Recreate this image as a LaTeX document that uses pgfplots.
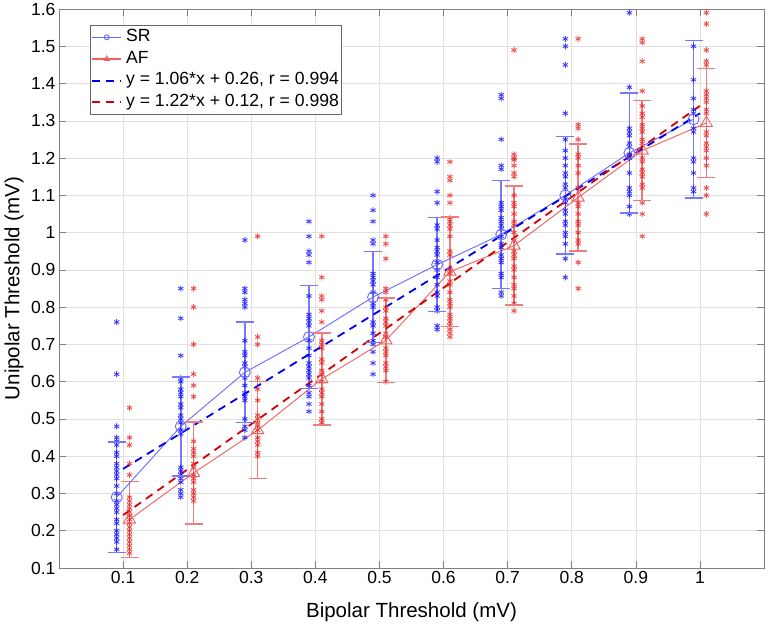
\documentclass[border=0pt]{standalone}
\usepackage{fontspec}
\setmainfont{Liberation Sans}
\usepackage{pgfplots}
\usepackage{pgfplotstable}
\pgfplotsset{compat=1.18}
\definecolor{srdot}{RGB}{20,20,255}
\definecolor{afdot}{RGB}{235,40,40}
\definecolor{srlight}{RGB}{105,105,255}
\definecolor{aflight}{RGB}{240,95,95}
\definecolor{srbar}{RGB}{120,120,255}
\definecolor{afbar}{RGB}{240,125,125}
\definecolor{srfit}{RGB}{0,0,240}
\definecolor{affit}{RGB}{215,0,0}

% group means
\pgfplotstableread{
x y
0.09 0.290
0.19 0.480
0.29 0.625
0.39 0.720
0.49 0.827
0.59 0.914
0.69 0.995
0.79 1.100
0.89 1.214
0.99 1.304
}\srmean
\pgfplotstableread{
x y
0.11 0.230
0.21 0.355
0.31 0.470
0.41 0.607
0.51 0.711
0.61 0.895
0.71 0.965
0.81 1.094
0.91 1.220
1.01 1.294
}\afmean

\begin{document}
\begin{tikzpicture}
\begin{axis}[
  scale only axis, width=705pt, height=559pt,
  xmin=0, xmax=1.1, ymin=0.1, ymax=1.6,
  xtick={0.1,0.2,0.3,0.4,0.5,0.6,0.7,0.8,0.9,1},
  ytick={0.1,0.2,0.3,0.4,0.5,0.6,0.7,0.8,0.9,1,1.1,1.2,1.3,1.4,1.5,1.6},
  tick align=inside,
  major tick length=7pt,
  grid=major,
  major grid style={color=black!12, line width=0.5pt},
  axis line style={color=black!50, line width=0.6pt},
  tick style={color=black!50, line width=0.6pt},
  /pgf/number format/assume math mode=true,
  tick label style={font=\fontsize{17.5}{18}\selectfont},
  label style={font=\fontsize{20.5}{22}\selectfont},
  xlabel={Bipolar Threshold (mV)},
  ylabel={Unipolar Threshold (mV)},
  xlabel style={at={(axis description cs:0.5,-0.079)}, anchor=center},
  ylabel style={at={(axis description cs:-0.0638,0.5)}, anchor=center},
  unbounded coords=jump,
  legend image code/.code={\draw[mark repeat=2,mark phase=2,#1] plot coordinates {(0pt,0pt) (14.5pt,0pt) (29pt,0pt)};},
  legend style={at={(rel axis cs:0.044,0.971)}, anchor=north west,
    font=\fontsize{17.6}{18}\selectfont, draw=black!60, line width=0.6pt,
    inner xsep=1pt, inner ysep=2pt,
    nodes={inner sep=1.5pt, text height=12.5pt, text depth=4pt},
    row sep=2.2pt, column sep=2.5pt},
  legend cell align=left,
]
\addlegendimage{color=srlight, line width=1.3pt, mark=o, mark size=2.5pt, mark options={line width=0.9pt}}
\addlegendentry{SR}
\addlegendimage{color=aflight, line width=1.3pt, mark=triangle, mark size=3pt, mark options={line width=0.9pt}}
\addlegendentry{AF}
\addlegendimage{color=srfit, line width=1.8pt, dash pattern=on 8pt off 6pt}
\addlegendentry{y = 1.06*x + 0.26, r = 0.994}
\addlegendimage{color=affit, line width=1.8pt, dash pattern=on 8pt off 6pt}
\addlegendentry{y = 1.22*x + 0.12, r = 0.998}

% SR individual points
\addplot[forget plot, only marks, mark=asterisk, mark size=3pt, color=srdot, opacity=0.8, mark options={line width=0.9pt}] coordinates {
(0.09,0.76)(0.09,0.62)(0.09,0.48)(0.09,0.45)(0.09,0.44)(0.09,0.43)(0.09,0.41)(0.09,0.40)(0.09,0.38)(0.09,0.37)(0.09,0.36)(0.09,0.35)(0.09,0.34)(0.09,0.32)(0.09,0.30)(0.09,0.28)(0.09,0.27)(0.09,0.26)(0.09,0.25)(0.09,0.23)(0.09,0.22)(0.09,0.20)(0.09,0.19)(0.09,0.18)(0.09,0.17)(0.09,0.15)
(0.19,0.85)(0.19,0.77)(0.19,0.67)(0.19,0.61)(0.19,0.60)(0.19,0.58)(0.19,0.57)(0.19,0.56)(0.19,0.54)(0.19,0.53)(0.19,0.51)(0.19,0.50)(0.19,0.49)(0.19,0.47)(0.19,0.46)(0.19,0.37)(0.19,0.36)(0.19,0.35)(0.19,0.34)(0.19,0.33)(0.19,0.31)(0.19,0.30)(0.19,0.29)
(0.29,0.98)(0.29,0.85)(0.29,0.84)(0.29,0.82)(0.29,0.81)(0.29,0.80)(0.29,0.71)(0.29,0.68)(0.29,0.67)(0.29,0.65)(0.29,0.64)(0.29,0.61)(0.29,0.59)(0.29,0.57)(0.29,0.56)(0.29,0.55)(0.29,0.50)(0.29,0.48)(0.29,0.47)(0.29,0.45)
(0.39,1.03)(0.39,0.99)(0.39,0.95)(0.39,0.94)(0.39,0.92)(0.39,0.83)(0.39,0.78)(0.39,0.77)(0.39,0.76)(0.39,0.75)(0.39,0.71)(0.39,0.69)(0.39,0.67)(0.39,0.65)(0.39,0.64)(0.39,0.63)(0.39,0.62)(0.39,0.61)(0.39,0.59)(0.39,0.57)(0.39,0.56)(0.39,0.54)(0.39,0.52)
(0.49,1.10)(0.49,1.06)(0.49,1.03)(0.49,0.98)(0.49,0.97)(0.49,0.89)(0.49,0.88)(0.49,0.87)(0.49,0.86)(0.49,0.84)(0.49,0.81)(0.49,0.80)(0.49,0.76)(0.49,0.75)(0.49,0.73)(0.49,0.71)(0.49,0.70)(0.49,0.68)(0.49,0.65)(0.49,0.62)
(0.59,1.20)(0.59,1.19)(0.59,1.11)(0.59,1.08)(0.59,1.02)(0.59,1.01)(0.59,0.98)(0.59,0.96)(0.59,0.95)(0.59,0.94)(0.59,0.92)(0.59,0.90)(0.59,0.88)(0.59,0.86)(0.59,0.84)(0.59,0.83)(0.59,0.80)(0.59,0.79)(0.59,0.75)(0.59,0.74)
(0.69,1.37)(0.69,1.36)(0.69,1.25)(0.69,1.18)(0.69,1.17)(0.69,1.08)(0.69,1.07)(0.69,1.06)(0.69,1.04)(0.69,1.03)(0.69,1.02)(0.69,1.01)(0.69,0.99)(0.69,0.97)(0.69,0.96)(0.69,0.94)(0.69,0.93)(0.69,0.92)(0.69,0.89)(0.69,0.88)(0.69,0.84)(0.69,0.83)
(0.79,1.52)(0.79,1.50)(0.79,1.45)(0.79,1.32)(0.79,1.25)(0.79,1.22)(0.79,1.20)(0.79,1.18)(0.79,1.16)(0.79,1.15)(0.79,1.13)(0.79,1.12)(0.79,1.09)(0.79,1.08)(0.79,1.06)(0.79,1.05)(0.79,1.03)(0.79,1.02)(0.79,1.00)(0.79,0.99)(0.79,0.97)(0.79,0.93)(0.79,0.88)
(0.89,1.59)(0.89,1.39)(0.89,1.28)(0.89,1.27)(0.89,1.26)(0.89,1.24)(0.89,1.23)(0.89,1.21)(0.89,1.20)(0.89,1.16)(0.89,1.12)(0.89,1.11)(0.89,1.10)(0.89,1.07)(0.89,1.05)
(0.99,1.50)(0.99,1.41)(0.99,1.36)(0.99,1.33)(0.99,1.32)(0.99,1.28)(0.99,1.27)(0.99,1.20)(0.99,1.19)(0.99,1.16)(0.99,1.12)(0.99,1.11)
};
% AF individual points
\addplot[forget plot, only marks, mark=asterisk, mark size=3pt, color=afdot, opacity=0.8, mark options={line width=0.9pt}] coordinates {
(0.11,0.53)(0.11,0.45)(0.11,0.43)(0.11,0.38)(0.11,0.35)(0.11,0.29)(0.11,0.28)(0.11,0.27)(0.11,0.26)(0.11,0.25)(0.11,0.24)(0.11,0.23)(0.11,0.22)(0.11,0.21)(0.11,0.20)(0.11,0.19)(0.11,0.18)(0.11,0.17)(0.11,0.16)(0.11,0.15)(0.11,0.14)
(0.21,0.85)(0.21,0.80)(0.21,0.70)(0.21,0.62)(0.21,0.59)(0.21,0.56)(0.21,0.44)(0.21,0.42)(0.21,0.41)(0.21,0.40)(0.21,0.38)(0.21,0.37)(0.21,0.35)(0.21,0.34)(0.21,0.33)(0.21,0.31)(0.21,0.30)(0.21,0.29)(0.21,0.28)
(0.31,0.99)(0.31,0.72)(0.31,0.70)(0.31,0.61)(0.31,0.58)(0.31,0.55)(0.31,0.51)(0.31,0.50)(0.31,0.49)(0.31,0.48)(0.31,0.47)(0.31,0.45)(0.31,0.44)(0.31,0.43)(0.31,0.41)(0.31,0.40)
(0.41,0.99)(0.41,0.88)(0.41,0.83)(0.41,0.82)(0.41,0.79)(0.41,0.76)(0.41,0.71)(0.41,0.70)(0.41,0.69)(0.41,0.66)(0.41,0.65)(0.41,0.63)(0.41,0.62)(0.41,0.60)(0.41,0.58)(0.41,0.57)(0.41,0.56)(0.41,0.54)(0.41,0.52)(0.41,0.50)(0.41,0.49)
(0.51,0.99)(0.51,0.97)(0.51,0.93)(0.51,0.85)(0.51,0.84)(0.51,0.82)(0.51,0.80)(0.51,0.79)(0.51,0.77)(0.51,0.76)(0.51,0.75)(0.51,0.73)(0.51,0.72)(0.51,0.69)(0.51,0.68)(0.51,0.67)(0.51,0.65)(0.51,0.64)(0.51,0.63)(0.51,0.60)
(0.61,1.19)(0.61,1.15)(0.61,1.14)(0.61,1.10)(0.61,1.08)(0.61,1.04)(0.61,1.03)(0.61,1.02)(0.61,1.01)(0.61,0.99)(0.61,0.95)(0.61,0.94)(0.61,0.90)(0.61,0.89)(0.61,0.87)(0.61,0.86)(0.61,0.84)(0.61,0.82)(0.61,0.81)(0.61,0.80)(0.61,0.78)(0.61,0.77)(0.61,0.76)(0.61,0.75)(0.61,0.74)(0.61,0.73)(0.61,0.72)
(0.71,1.49)(0.71,1.21)(0.71,1.20)(0.71,1.195)(0.71,1.18)(0.71,1.16)(0.71,1.15)(0.71,1.10)(0.71,1.08)(0.71,1.07)(0.71,1.05)(0.71,1.03)(0.71,1.02)(0.71,1.00)(0.71,0.98)(0.71,0.95)(0.71,0.94)(0.71,0.93)(0.71,0.91)(0.71,0.90)(0.71,0.88)(0.71,0.86)(0.71,0.85)(0.71,0.83)(0.71,0.81)(0.71,0.79)
(0.81,1.52)(0.81,1.29)(0.81,1.28)(0.81,1.25)(0.81,1.21)(0.81,1.20)(0.81,1.18)(0.81,1.16)(0.81,1.12)(0.81,1.08)(0.81,1.07)(0.81,1.05)(0.81,1.03)(0.81,1.02)(0.81,1.00)(0.81,0.98)(0.81,0.97)(0.81,0.92)(0.81,0.85)
(0.91,1.52)(0.91,1.51)(0.91,1.46)(0.91,1.38)(0.91,1.34)(0.91,1.32)(0.91,1.31)(0.91,1.29)(0.91,1.28)(0.91,1.27)(0.91,1.25)(0.91,1.24)(0.91,1.20)(0.91,1.19)(0.91,1.17)(0.91,1.16)(0.91,1.15)(0.91,1.13)(0.91,1.12)(0.91,1.08)(0.91,1.05)(0.91,0.99)
(1.01,1.59)(1.01,1.56)(1.01,1.49)(1.01,1.46)(1.01,1.45)(1.01,1.38)(1.01,1.37)(1.01,1.36)(1.01,1.35)(1.01,1.33)(1.01,1.32)(1.01,1.27)(1.01,1.26)(1.01,1.24)(1.01,1.23)(1.01,1.22)(1.01,1.20)(1.01,1.18)(1.01,1.12)(1.01,1.10)(1.01,1.05)
};
% SR error bars (mean +/- sd), caps as marks
\addplot[forget plot, draw=srbar, line width=1.6pt, mark=-, mark size=9pt, mark options={draw=srbar, line width=1.6pt}] coordinates {
(0.09,0.142)(0.09,0.438)(0.09,nan)
(0.19,0.347)(0.19,0.613)(0.19,nan)
(0.29,0.490)(0.29,0.760)(0.29,nan)
(0.39,0.582)(0.39,0.858)(0.39,nan)
(0.49,0.705)(0.49,0.949)(0.49,nan)
(0.59,0.788)(0.59,1.040)(0.59,nan)
(0.69,0.850)(0.69,1.140)(0.69,nan)
(0.79,0.942)(0.79,1.258)(0.79,nan)
(0.89,1.053)(0.89,1.375)(0.89,nan)
(0.99,1.093)(0.99,1.515)
};
% AF error bars
\addplot[forget plot, draw=afbar, line width=1.6pt, mark=-, mark size=9pt, mark options={draw=afbar, line width=1.6pt}] coordinates {
(0.11,0.128)(0.11,0.332)(0.11,nan)
(0.21,0.218)(0.21,0.492)(0.21,nan)
(0.31,0.340)(0.31,0.600)(0.31,nan)
(0.41,0.483)(0.41,0.731)(0.41,nan)
(0.51,0.598)(0.51,0.824)(0.51,nan)
(0.61,0.748)(0.61,1.042)(0.61,nan)
(0.71,0.805)(0.71,1.125)(0.71,nan)
(0.81,0.951)(0.81,1.237)(0.81,nan)
(0.91,1.086)(0.91,1.354)(0.91,nan)
(1.01,1.148)(1.01,1.440)
};
% means
\addplot[forget plot, color=srlight, line width=0.9pt, mark=o, mark size=5.5pt] table[x=x, y=y] {\srmean};
\addplot[forget plot, color=aflight, line width=0.9pt, mark=triangle, mark size=7pt] table[x=x, y=y] {\afmean};
% linear fits
\addplot[forget plot, color=srfit, line width=1.8pt, dash pattern=on 8pt off 6pt] coordinates {(0.1,0.366) (1.0,1.32)};
\addplot[forget plot, color=affit, line width=1.8pt, dash pattern=on 8pt off 6pt] coordinates {(0.1,0.242) (1.0,1.34)};
\coordinate (sw) at (rel axis cs:0,0);
\end{axis}
\pgfresetboundingbox
\path[use as bounding box] (sw) ++(-59pt,-57pt) rectangle ++(768pt,625pt);
\end{tikzpicture}
\end{document}
